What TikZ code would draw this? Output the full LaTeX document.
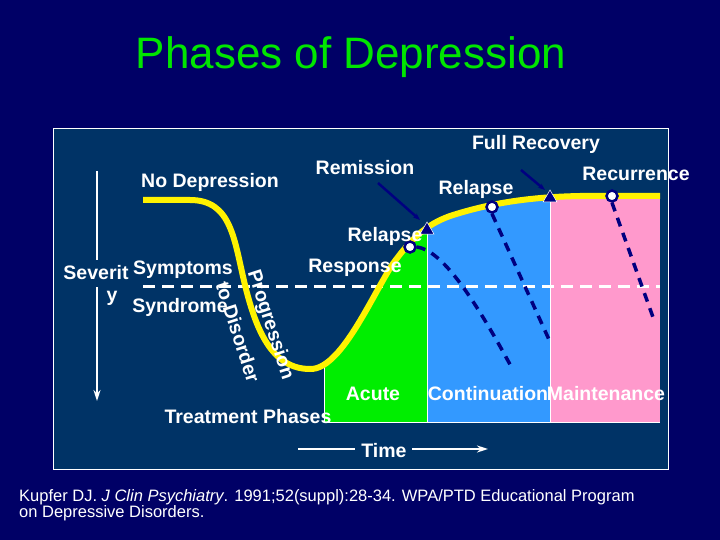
\documentclass[tikz,border=0pt]{standalone}
\usepackage{fontspec}
\setmainfont{Liberation Sans}
\usetikzlibrary{arrows.meta,shapes.geometric}
\definecolor{outer}{HTML}{000066}
\definecolor{panel}{HTML}{003366}
\definecolor{ttl}{HTML}{00E600}
\definecolor{ngreen}{HTML}{00EE00}
\definecolor{nblue}{HTML}{3399FF}
\definecolor{npink}{HTML}{FF99CC}
\definecolor{navy}{HTML}{000080}
\tikzset{
 lbl/.style={text=white,font=\bfseries\fontsize{19.5}{21}\selectfont,inner sep=0pt},
 relline/.style={navy,line width=3.5pt,dash pattern=on 9pt off 7pt},
 pt/.style={circle,fill=white,draw=navy,line width=2.5pt,minimum size=11pt,inner sep=0pt},
 tri/.style={regular polygon,regular polygon sides=3,fill=navy,draw=white,line width=0.5pt,minimum size=16pt,inner sep=0pt},
 ptr/.style={navy,line width=2.5pt,-{Stealth[length=7pt]}},
 warr/.style={white,line width=2pt,-{Stealth[length=11pt,width=7pt]}}
}
\begin{document}
\begin{tikzpicture}[x=1pt,y=-1pt]
\fill[outer] (0,0) rectangle (720,540);
\useasboundingbox (0,0) rectangle (720,540);
\node[text=ttl,font=\fontsize{44}{50}\selectfont] (title) at (351,57) {Phases of Depression};
\fill[panel,draw=white,line width=0.8pt] (53,128) rectangle (668,469);
\def\curve{(143,200) -- (190,200) .. controls (232,200) and (234,240) .. (245,285) .. controls (256,330) and (272,369) .. (310,369) .. controls (340,370) and (370,300) .. (392,265) .. controls (410,240) and (425,225) .. (450,216) .. controls (490,203) and (530,197) .. (580,196) -- (660,196)}
\begin{scope}
\clip \curve -- (660,430) -- (143,430) -- cycle;
\fill[ngreen] (324,180) rectangle (427,422);
\fill[nblue] (427,180) rectangle (550,422);
\fill[npink] (550,180) rectangle (660,422);
\draw[white,line width=0.6pt] (324,180) -- (324,422) (427,180) -- (427,422) (550,180) -- (550,422) (324,422) -- (660,422);
\end{scope}
\draw[white,line width=3pt,dash pattern=on 12pt off 7pt] (143,286) -- (660,286);
\draw[yellow,line width=6pt] \curve;
\node[pt] (p1) at (410,247) {};
\node[pt] (p2) at (492,207) {};
\node[pt] (p3) at (612,196) {};
\coordinate (e1) at (513,370);
\coordinate (e2) at (551,344);
\coordinate (e3) at (654,320);
\draw[relline] (p1.east) .. controls (440,250) and (470,290) .. (e1);
\draw[relline] (p2.south) -- (e2);
\draw[relline] (p3.south) -- (e3);
\node[tri] (t1) at (427,230) {};
\node[tri] (t2) at (550,198) {};
\node[lbl] (nodep) at (210,182) {No Depression};
\node[lbl] (remis) at (365,168) {Remission};
\node[lbl] (fullr) at (536,144) {Full Recovery};
\node[lbl] (recur) at (636,174) {Recurrence};
\node[lbl] (rel2) at (476,189) {Relapse};
\node[lbl] (rel1) at (385,236) {Relapse};
\node[lbl] (resp) at (355,268) {Response};
\node[lbl] (sympt) at (183,270) {Symptoms};
\node[lbl] (synd) at (180,307) {Syndrome};
\node[lbl] (sev1) at (96,273) {Severit};
\node[lbl] (sev2) at (112,298) {y};
\node[lbl] (acute) at (373,394) {Acute};
\node[lbl] (cont) at (488,394) {Continuation};
\node[lbl] (maint) at (606,394) {Maintenance};
\node[lbl] (treat) at (248,417) {Treatment Phases};
\node[lbl] (time) at (384,451) {Time};
\node[lbl,rotate=-72] (prog) at (270,325) {Progression};
\node[lbl,rotate=-72] (todis) at (238,332) {to Disorder};
\coordinate (s1) at (97,171); \coordinate (s2) at (97,260);
\coordinate (s3) at (97,287); \coordinate (s4) at (97,401);
\draw[white,line width=2pt] (s1) -- (s2);
\draw[warr] (s3) -- (s4);
\coordinate (ta) at (298,449); \coordinate (tb) at (355,449);
\coordinate (tc) at (412,449); \coordinate (td) at (488,449);
\draw[white,line width=2pt] (ta) -- (tb);
\draw[warr] (tc) -- (td);
\coordinate (r0) at (378,183); \coordinate (r1) at (420,220);
\draw[ptr] (r0) -- (r1);
\coordinate (f0) at (521,170); \coordinate (f1) at (545,190);
\draw[ptr] (f0) -- (f1);
\node[text=white,font=\fontsize{16.5}{16}\selectfont,align=left,anchor=north west,inner sep=0pt] (ref) at (19,489) {Kupfer DJ. \textit{J Clin Psychiatry}. 1991;52(suppl):28-34. WPA/PTD Educational Program\\on Depressive Disorders.};
\end{tikzpicture}
\end{document}
